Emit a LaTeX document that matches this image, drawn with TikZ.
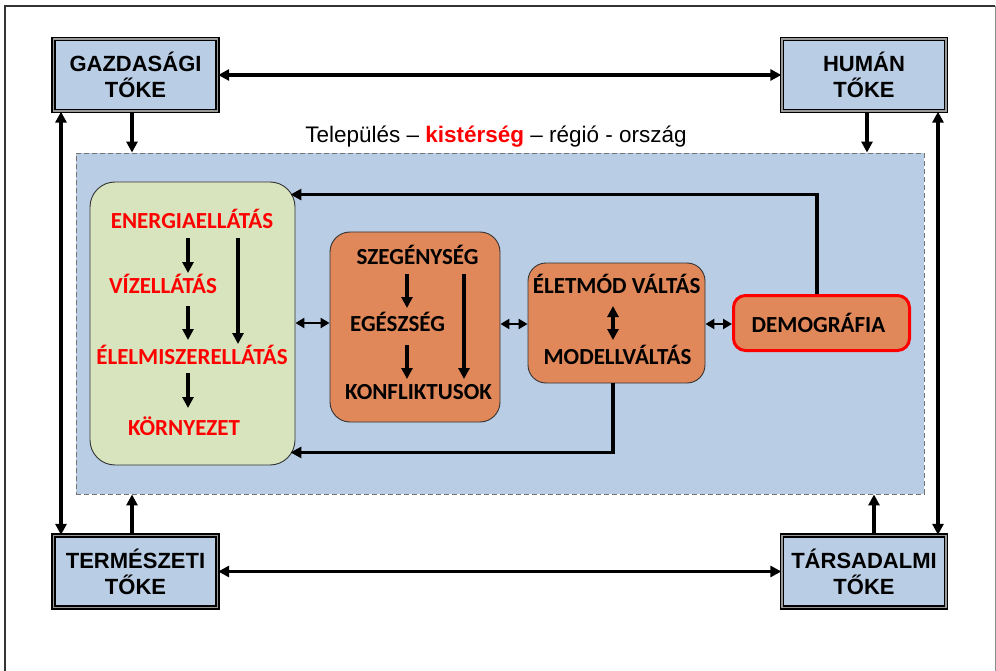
\documentclass[tikz,border=0pt]{standalone}
\usepackage{fontspec}
\setmainfont{Liberation Sans}
\newfontfamily\calib{Carlito}
\usetikzlibrary{arrows.meta,calc}
\definecolor{bluef}{HTML}{B9CDE5}
\definecolor{greenf}{HTML}{D7E4BD}
\definecolor{orangef}{HTML}{E0885A}
\definecolor{redt}{HTML}{FF0000}
\begin{document}
\begin{tikzpicture}[x=1pt,y=-1pt,
  capbox/.style={draw=black, line width=1.3pt, double=black!40, double distance=1.8pt,
    fill=bluef, minimum width=164pt, minimum height=72pt, inner sep=0pt, align=center,
    font=\bfseries\fontsize{22}{26}\selectfont},
  arr/.style={line width=3.2pt, -{Triangle[length=11pt,width=11pt]}},
  barr/.style={line width=3.2pt, {Triangle[length=11pt,width=11pt]}-{Triangle[length=11pt,width=11pt]}},
  sarr/.style={line width=2.4pt, {Triangle[length=9pt,width=10pt]}-{Triangle[length=9pt,width=10pt]}},
  lab/.style={font=\calib\bfseries\fontsize{23}{23}\selectfont, inner sep=0pt, anchor=base},
  rlab/.style={lab, text=redt},
  rbox/.style={draw=black!80, line width=0.9pt, inner sep=0pt},
]
\useasboundingbox (0,0) rectangle (996,671);
% outer frame
\draw[line width=2pt, black!80] (5,672) -- (5,6) -- (995,6);
\draw[line width=1pt, black!45] (995,6) -- (995,672);

% dashed area
\node[draw=black!55, dash pattern=on 5pt off 3pt, line width=0.9pt, fill=bluef,
  minimum width=848pt, minimum height=341pt, inner sep=0pt] (area) at (500,323.5) {};
\node[anchor=base, font=\fontsize{22.5}{22.5}\selectfont, inner sep=0pt] (title) at (496,143)
  {Település -- {\bfseries\color{redt}kistérség} -- régió - ország};

% capital boxes
\node[capbox] (gazd) at (135.5,75) {GAZDASÁGI\\TŐKE};
\node[capbox] (human) at (864,75) {HUMÁN\\TŐKE};
\node[capbox] (term) at (135.5,571.5) {TERMÉSZETI\\TŐKE};
\node[capbox] (tars) at (864,571.5) {TÁRSADALMI\\TŐKE};

\draw[barr] (gazd) -- (human);
\draw[barr] (term) -- (tars);
\draw[barr] (gazd.south -| 61,0) -- (term.north -| 61,0);
\draw[barr] (human.south -| 938,0) -- (tars.north -| 938,0);
\draw[arr] (gazd.south -| 132,0) -- (area.north -| 132,0);
\draw[arr] (human.south -| 867,0) -- (area.north -| 867,0);
\draw[arr] (term.north -| 132,0) -- (area.south -| 132,0);
\draw[arr] (tars.north -| 874,0) -- (area.south -| 874,0);

% inner boxes
\node[rbox, fill=greenf, rounded corners=25pt, minimum width=205pt, minimum height=283pt] (green) at (192.5,323.5) {};
\node[rbox, fill=orangef, rounded corners=20pt, minimum width=170pt, minimum height=190pt] (o1) at (415,327) {};
\node[rbox, fill=orangef, rounded corners=18pt, minimum width=177pt, minimum height=120pt] (o2) at (616.5,323) {};
\node[draw=redt, line width=3pt, fill=orangef, rounded corners=12pt, minimum width=176pt, minimum height=55pt, inner sep=0pt] (demog) at (821.5,323) {};

% labels
\node[rlab] (energia) at (192,229) {ENERGIAELLÁTÁS};
\node[rlab] (viz) at (163,293) {VÍZELLÁTÁS};
\node[rlab] (elelm) at (192,364) {ÉLELMISZERELLÁTÁS};
\node[rlab] (korny) at (184,435) {KÖRNYEZET};
\node[lab] (szeg) at (417.5,265) {SZEGÉNYSÉG};
\node[lab] (egesz) at (397.5,331) {EGÉSZSÉG};
\node[lab] (konfl) at (418.5,399) {KONFLIKTUSOK};
\node[lab] (eletm) at (616.7,293) {ÉLETMÓD VÁLTÁS};
\node[lab] (modell) at (617.5,364) {MODELLVÁLTÁS};
\node[lab] (demogt) at (818.5,332) {DEMOGRÁFIA};

% inner arrows
\draw[arr] ($(energia.base -| 188,0)+(0,9)$) -- ($(viz.base -| 188,0)+(0,-20)$);
\draw[arr] ($(viz.base -| 188,0)+(0,13)$) -- ($(elelm.base -| 188,0)+(0,-24)$);
\draw[arr] ($(elelm.base -| 188,0)+(0,9)$) -- ($(korny.base -| 188,0)+(0,-27)$);
\draw[arr] ($(energia.base -| 238,0)+(0,9)$) -- ($(elelm.base -| 238,0)+(0,-20)$);
\draw[arr] ($(szeg.base -| 407,0)+(0,9)$) -- ($(egesz.base -| 407,0)+(0,-23)$);
\draw[arr] ($(egesz.base -| 407,0)+(0,14)$) -- ($(konfl.base -| 407,0)+(0,-20)$);
\draw[arr] ($(szeg.base -| 464,0)+(0,9)$) -- ($(konfl.base -| 464,0)+(0,-20)$);
\draw[barr] ($(eletm.base -| 613,0)+(0,13)$) -- ($(modell.base -| 613,0)+(0,-24)$);

% links between boxes
\draw[sarr] (green.east |- 0,323) -- (o1.west |- 0,323);
\draw[sarr] (o1.east |- 0,324) -- (o2.west |- 0,324);
\draw[sarr] (o2.east |- 0,324) -- (demog.west |- 0,324);

% feedback loops
\coordinate (fbA) at ($(green.north east)+(-5,13)$);
\coordinate (fbB) at ($(green.south east)+(-5,-13)$);
\draw[arr] (demog.north -| 817,0) |- (fbA);
\draw[arr] (o2.south -| 613,0) |- (fbB);
\end{tikzpicture}
\end{document}
